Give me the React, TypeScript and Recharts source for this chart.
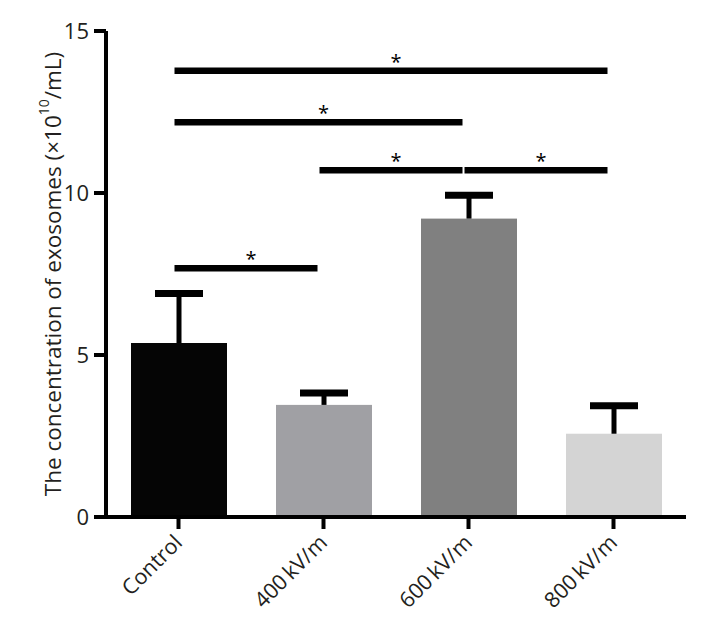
import { Bar, BarChart, Cell, Label, ReferenceLine, XAxis, YAxis } from 'recharts'

const groups = ['Control', '400\u2009kV/m', '600\u2009kV/m', '800\u2009kV/m']
const means = [5.37, 3.46, 9.21, 2.57]
const sds = [1.53, 0.37, 0.72, 0.86]
const barFills = ['#050505', '#a0a0a4', '#808080', '#d4d4d4']
const yTicks = [0, 5, 10, 15]

// pairwise comparisons marked significant (*)
const sigFrom = [groups[0], groups[0], groups[1], groups[2], groups[0]]
const sigTo = [groups[3], groups[2], groups[2], groups[3], groups[1]]
const sigHeight = [13.77, 12.18, 10.7, 10.7, 7.68]

const data = groups.map((group, i) => ({ group, mean: means[i], sd: sds[i] }))

const FONT = '"Open Sans", "Noto Sans", sans-serif'
const INK = '#231f20'

// bar plus an upward-only SD whisker
const BarWithError = (props: any) => {
    const { x, y, width, height, fill, payload } = props
    const perUnit = payload.mean ? height / payload.mean : 0
    const top = y - payload.sd * perUnit
    const cx = x + width / 2
    return (
        <g>
            <rect x={x} y={y} width={width} height={height} fill={fill} />
            <line x1={cx} x2={cx} y1={y} y2={top} stroke="#000" strokeWidth={5} />
            <line x1={cx - 24} x2={cx + 24} y1={top} y2={top} stroke="#000" strokeWidth={7} />
        </g>
    )
}

// comparison bar, pulled in a little so adjacent ones don't touch
const SigLine = (props: any) => {
    const { x1, x2, y1 } = props
    return <line x1={x1 - 4} x2={x2 - 6} y1={y1} y2={y1} stroke="#000" strokeWidth={6.5} />
}

const XTick = ({ x, y, payload }: any) => (
    <text
        x={x + 5}
        y={y + 13}
        transform={`rotate(-45 ${x + 5} ${y + 13})`}
        textAnchor="end"
        fontFamily={FONT}
        fontSize={21.5}
        fill={INK}
    >
        {payload.value}
    </text>
)

const YTitle = ({ viewBox }: any) => {
    const cx = 52
    const cy = viewBox.y + viewBox.height / 2
    return (
        <text
            x={cx}
            y={cy}
            transform={`rotate(-90 ${cx} ${cy})`}
            textAnchor="middle"
            dominantBaseline="central"
            fontFamily={FONT}
            fontSize={22.5}
            fill={INK}
        >
            The concentration of exosomes (×10
            <tspan fontSize={14} dy={-9}>10</tspan>
            <tspan dy={9}>/mL)</tspan>
        </text>
    )
}

export default function App() {
    return (
        <div style={{ position: 'absolute', left: 0, top: 0, background: '#fff' }}>
            <BarChart
                width={702}
                height={619}
                data={data}
                margin={{ top: 31, right: 16, bottom: 72, left: 0 }}
                barSize={96}
            >
                <XAxis
                    dataKey="group"
                    height={30}
                    axisLine={{ stroke: '#000', strokeWidth: 4 }}
                    tickLine={{ stroke: '#000', strokeWidth: 4 }}
                    tickSize={12}
                    tick={<XTick />}
                    interval={0}
                />
                <YAxis
                    width={106}
                    domain={[0, 15]}
                    ticks={yTicks}
                    axisLine={{ stroke: '#000', strokeWidth: 4 }}
                    tickLine={{ stroke: '#000', strokeWidth: 4 }}
                    tickSize={12}
                    tickMargin={5}
                    tick={{ fontFamily: FONT, fontSize: 22, fill: INK }}
                >
                    <Label content={<YTitle />} />
                </YAxis>
                <Bar dataKey="mean" isAnimationActive={false} shape={<BarWithError />}>
                    {data.map((d, i) => (
                        <Cell key={d.group} fill={barFills[i]} />
                    ))}
                </Bar>
                {sigHeight.map((h, i) => (
                    <ReferenceLine
                        key={i}
                        segment={[
                            { x: sigFrom[i], y: h },
                            { x: sigTo[i], y: h },
                        ]}
                        shape={<SigLine />}
                        label={{ value: '*', position: 'top', offset: 2, fontSize: 20, fill: '#000', fontFamily: FONT }}
                    />
                ))}
            </BarChart>
        </div>
    )
}
